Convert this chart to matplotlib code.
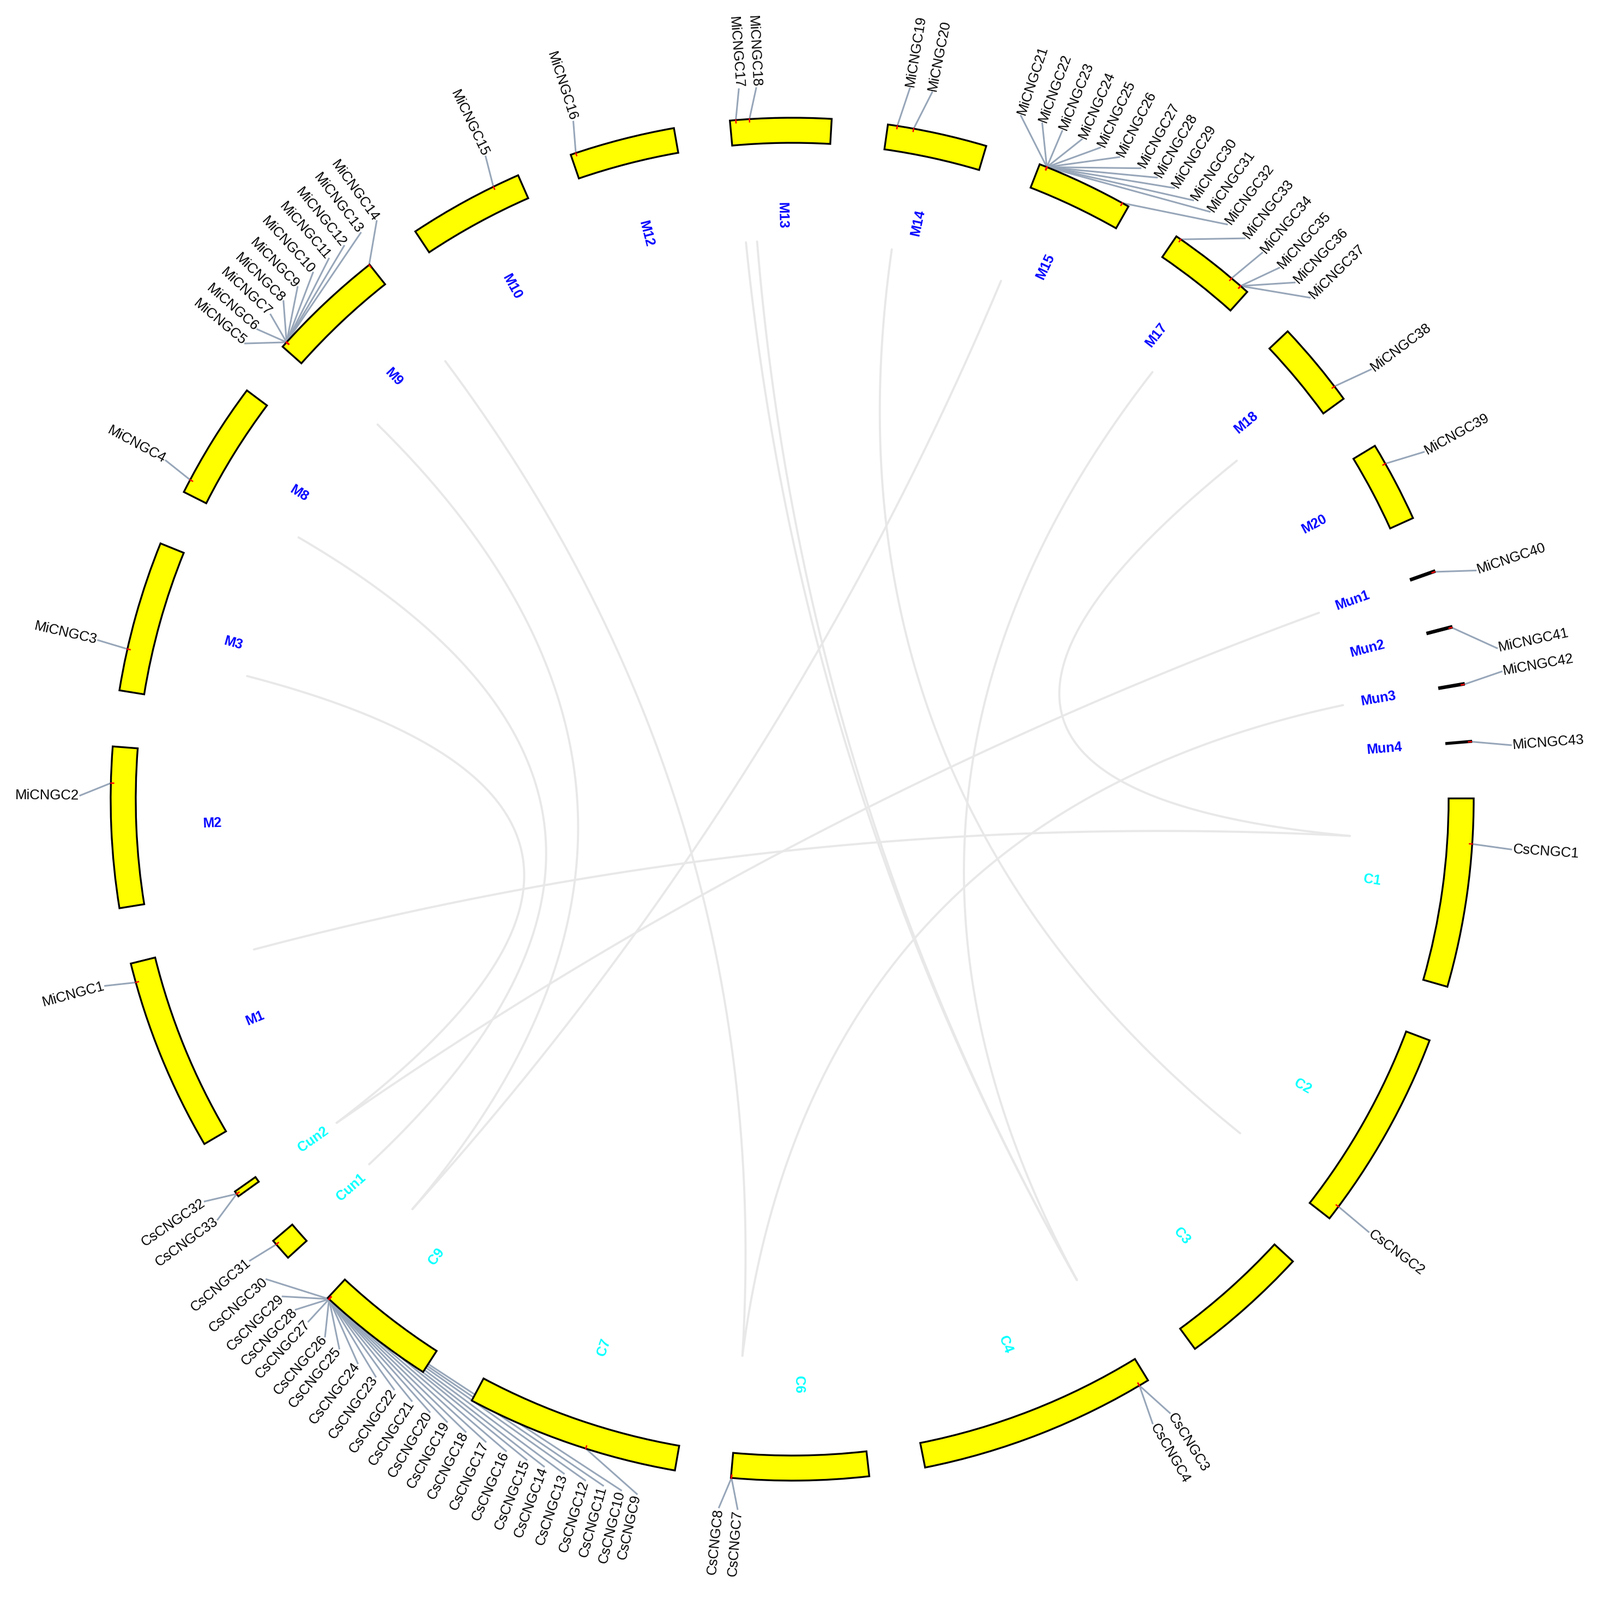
import numpy as np
import matplotlib
matplotlib.use('Agg')
import matplotlib.pyplot as plt

plt.rcParams['font.family'] = ['Liberation Sans', 'DejaVu Sans']

# chromosomes in clockwise order from M1, lengths in Mb
chroms = ['M1', 'M2', 'M3', 'M8', 'M9', 'M10', 'M12', 'M13', 'M14', 'M15', 'M17',
          'M18', 'M20', 'Mun1', 'Mun2', 'Mun3', 'Mun4',
          'C1', 'C2', 'C3', 'C4', 'C6', 'C7', 'C9', 'Cun1', 'Cun2']
chrom_len = [33.0, 27.4, 25.8, 20.2, 20.2, 19.8, 18.0, 17.2, 17.0, 16.6, 15.2,
             14.8, 13.8, 0.3, 0.3, 0.3, 0.2,
             32.2, 34.6, 22.2, 40.6, 23.4, 36.4, 20.4, 3.8, 1.0]

# CNGC genes: chromosome and position (Mb)
genes = ['MiCNGC%d' % i for i in range(1, 44)] + \
        ['CsCNGC%d' % i for i in [1, 2, 3, 4] + list(range(7, 34))]
gene_chr = (['M1', 'M2', 'M3', 'M8'] + ['M9'] * 10 + ['M10', 'M12', 'M13', 'M13',
            'M14', 'M14'] + ['M15'] * 12 + ['M17'] * 5 + ['M18', 'M20',
            'Mun1', 'Mun2', 'Mun3', 'Mun4'] +
            ['C1', 'C2', 'C4', 'C4', 'C6', 'C6', 'C7'] + ['C9'] * 21 +
            ['Cun1', 'Cun2', 'Cun2'])
gene_pos = ([29.7, 21.2, 7.1, 2.3] +
            [1.0, 1.0, 1.0, 1.0, 1.0, 1.0, 1.0, 1.0, 1.0, 20.1] +
            [15.2, 0.9, 1.0, 3.3, 1.6, 4.4] +
            [1.3] * 11 + [15.4] +
            [0.9, 11.7, 13.7, 13.7, 13.7] +
            [12.2, 3.5, 0.25, 0.25, 0.25, 0.15] +
            [7.7, 32.1, 1.7, 1.7, 23.3, 23.3, 15.5] +
            [20.1] * 21 +
            [3.0, 0.5, 0.5])

# label angle of each gene name after de-overlapping (degrees clockwise from top)
label_deg = ([254.8, 270.3, 282.9, 298.4] +
             [309.8, 311.3, 312.9, 314.4, 316.0, 317.7, 319.4, 321.0, 322.7, 324.3] +
             [334.5, 342.1, 355.7, 357.1, 9.4, 11.2] +
             [18.5, 20.3, 22.0, 23.7, 25.3, 27.0, 28.9, 30.4, 32.0, 33.8, 35.4,
              37.1, 38.9, 40.7, 42.5, 44.2, 45.9] +
             [53.4, 61.2, 71.5, 77.9, 79.8, 85.7] +
             [94.0, 126.9, 148.4, 150.0, 184.4, 185.9] +
             [192.6, 193.9, 195.4, 196.9, 198.7, 200.4, 201.9, 203.7, 205.5, 207.3,
              209.0, 210.6, 212.3, 214.0, 215.8, 217.6, 219.5, 221.0, 222.8, 224.2,
              225.7, 227.6] +
             [229.6, 235.6, 233.8])

# collinear gene pairs
links = [('MiCNGC1', 'CsCNGC1'), ('MiCNGC3', 'CsCNGC32'), ('MiCNGC4', 'CsCNGC31'),
         ('MiCNGC9', 'CsCNGC20'), ('MiCNGC14', 'CsCNGC7'), ('MiCNGC17', 'CsCNGC3'),
         ('MiCNGC18', 'CsCNGC4'), ('MiCNGC20', 'CsCNGC2'), ('MiCNGC26', 'CsCNGC15'),
         ('MiCNGC34', 'CsCNGC3'), ('MiCNGC38', 'CsCNGC1'), ('MiCNGC40', 'CsCNGC33'),
         ('MiCNGC42', 'CsCNGC8')]

GAP = 4.75
START = 239.6
R_IN, R_OUT = 1204, 1250
R_LINK = 1025

# layout of the ideogram
deg_per_mb = (360 - GAP * len(chroms)) / sum(chrom_len)
chr_start = {}
a = START
for c, L in zip(chroms, chrom_len):
    chr_start[c] = a
    a += L * deg_per_mb + GAP


def gene_angle(g):
    i = genes.index(g)
    return chr_start[gene_chr[i]] + gene_pos[i] * deg_per_mb


def xy(deg, r):
    t = np.radians(deg)
    return np.array([r * np.sin(t), r * np.cos(t)])


def polar_line(ax, pts, **kw):
    th = np.unwrap(np.arctan2(pts[:, 0], pts[:, 1]))
    rr = np.hypot(pts[:, 0], pts[:, 1])
    ax.plot(th, rr, **kw)


fig = plt.figure(figsize=(29.31, 29.35), dpi=100)
cx, cy, R_AX = 1453, 2935 - 1466, 1460
ax = fig.add_axes([(cx - R_AX) / 2931, (cy - R_AX) / 2935, 2 * R_AX / 2931, 2 * R_AX / 2935],
                  projection='polar')
ax.set_theta_zero_location('N')
ax.set_theta_direction(-1)
ax.set_ylim(0, R_AX)
ax.set_axis_off()

# links
t = np.linspace(0, 1, 200)[:, None]
for g1, g2 in links:
    p0 = xy(gene_angle(g1), R_LINK)
    p2 = xy(gene_angle(g2), R_LINK)
    c = 0.08 * (p0 + p2) / 2
    b = (1 - t) ** 2 * p0 + 2 * (1 - t) * t * c + t ** 2 * p2
    polar_line(ax, b, color='#E8E8E8', lw=2.8, solid_capstyle='round', zorder=1)

# chromosome bars and names
for c, L in zip(chroms, chrom_len):
    span = L * deg_per_mb
    mid = chr_start[c] + span / 2
    ax.bar(np.radians(mid), R_OUT - R_IN, width=np.radians(span), bottom=R_IN,
           color='#FFFF00', edgecolor='black', linewidth=2.4, zorder=3)
    m = mid % 360
    col = '#0000FF' if c.startswith('M') else '#00FFFF'
    if 0 < m < 180:
        ax.text(np.radians(m), 1058, c, rotation=90 - m, rotation_mode='anchor',
                ha='left', va='center', fontsize=18, fontweight='bold', color=col)
    else:
        ax.text(np.radians(m), 1047, c, rotation=270 - m, rotation_mode='anchor',
                ha='right', va='center', fontsize=18, fontweight='bold', color=col)

# gene labels with connectors (drawn under the bars)
for g, ld in zip(genes, label_deg):
    ga = gene_angle(g)
    m = ld % 360
    right = 0 < m < 180
    r_end = 1322 if right else 1306
    seg = np.linspace(xy(ga, R_OUT), xy(ld, r_end), 40)
    polar_line(ax, seg, color='#97A6B9', lw=2.2, zorder=2)
    ax.plot([np.radians(ga)] * 2, [R_OUT - 5, R_OUT], color='red', lw=1.8, zorder=4)
    if right:
        ax.text(np.radians(m), r_end + 3, g, rotation=90 - m, rotation_mode='anchor',
                ha='left', va='center', fontsize=18.5, color='black')
    else:
        ax.text(np.radians(m), r_end + 2, g, rotation=270 - m, rotation_mode='anchor',
                ha='right', va='center', fontsize=18.5, color='black')

fig.savefig('out.png', dpi=100, facecolor='white')
